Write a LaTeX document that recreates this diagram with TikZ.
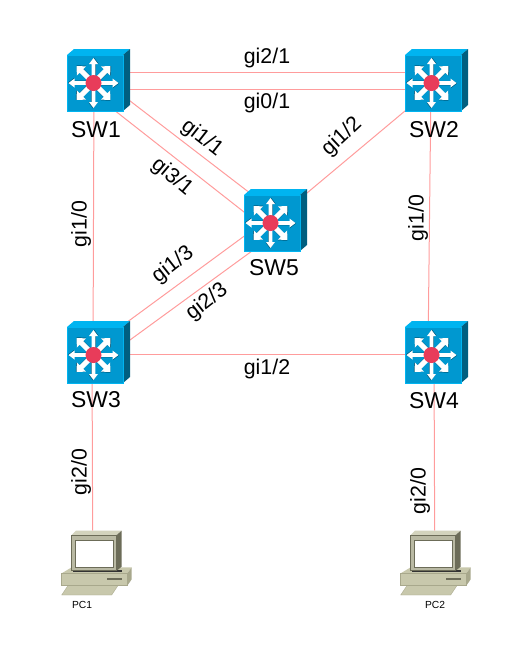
\documentclass[tikz,border=0pt]{standalone}
\usepackage{fontspec}
\setmainfont{Liberation Sans}
\usetikzlibrary{backgrounds}
\definecolor{linkpink}{HTML}{FF9C9C}
\definecolor{swfront}{HTML}{0098D0}
\definecolor{swtop}{HTML}{00B4F0}
\definecolor{swside}{HTML}{005F80}
\definecolor{swred}{HTML}{E83C5A}
\definecolor{pclight}{HTML}{C8C8AC}
\definecolor{pcmid}{HTML}{A8A88C}
\definecolor{pcdark}{HTML}{6C6C58}
\tikzset{
    link/.style={draw=linkpink, line width=0.75pt},
    portlabel/.style={font=\fontsize{16}{16}\selectfont, inner sep=0pt},
    swlabel/.style={font=\fontsize{17.2}{17.2}\selectfont, inner sep=0pt},
    pclabel/.style={font=\fontsize{7.7}{7.7}\selectfont, inner sep=0pt},
    switch/.pic={
        \node[minimum size=42pt, inner sep=0pt] (-box) at (0,0) {};
        \fill[swtop] (-28,-28) -- (-21,-34) -- (35,-34) -- (28,-28) -- cycle;
        \fill[swside] (28,-28) -- (35,-34) -- (35,22) -- (28,28) -- cycle;
        \fill[swfront, draw=swtop, line width=0.6pt] (-28,-28) rectangle (28,28);
        \begin{scope}[xshift=-1.5*0.75pt]
        \foreach \a in {0,90,180,270} {
            \fill[black!40!swfront, rotate=\a, shift={(0.5,0.5)}] (0,-1.8) -- (19,-1.8) -- (19,-4.5) -- (25,0)
                -- (19,4.5) -- (19,1.8) -- (0,1.8) -- cycle;
            \fill[white, rotate=\a] (0,-1.8) -- (19,-1.8) -- (19,-4.5) -- (25,0)
                -- (19,4.5) -- (19,1.8) -- (0,1.8) -- cycle;
        }
        \foreach \a in {45,135,225,315} {
            \fill[black!40!swfront, rotate=\a, shift={(0.5,0.5)}] (0,-2.5) -- (17,-2.5) -- (17,-6.5) -- (24,0)
                -- (17,6.5) -- (17,2.5) -- (0,2.5) -- cycle;
            \fill[white, rotate=\a] (0,-2.5) -- (17,-2.5) -- (17,-6.5) -- (24,0)
                -- (17,6.5) -- (17,2.5) -- (0,2.5) -- cycle;
        }
        \fill[swred] (0,0) circle (8);
        \end{scope}
    },
    pc/.pic={
        \begin{scope}[scale=1/3]
        \node[minimum size=1pt, inner sep=0pt] (-top) at (128,62) {};
        \fill[pclight, draw=pcmid, line width=0.3pt] (35,255) -- (55,225) -- (205,225) -- (185,255) -- cycle;
        \fill[pclight] (35,190) -- (65,172) -- (245,172) -- (232,190) -- cycle;
        \fill[pcmid] (232,190) -- (245,172) -- (245,208) -- (232,227) -- cycle;
        \fill[pclight, draw=pcmid, line width=0.3pt] (35,190) rectangle (232,227);
        \fill[pcdark] (170,205) rectangle (217,210);
        \fill[black!80] (68,180) rectangle (215,187);
        \fill[pclight!80!white] (65,75) -- (78,62) -- (215,62) -- (200,75) -- cycle;
        \fill[pcdark] (200,75) -- (215,62) -- (215,170) -- (200,182) -- cycle;
        \fill[pcmid!80!white, draw=pcdark, line width=0.3pt] (65,75) rectangle (200,182);
        \fill[white, draw=pcdark, line width=0.4pt] (77,90) rectangle (190,172);
        \end{scope}
    },
}
\begin{document}
\begin{tikzpicture}[x=0.75pt, y=-0.75pt]
    \useasboundingbox (0,0) rectangle (525,665);
    \pic (sw1) at (95,83) {switch};
    \pic (sw2) at (433,83) {switch};
    \pic (sw3) at (95,355) {switch};
    \pic (sw4) at (433,355) {switch};
    \pic (sw5) at (272,223) {switch};
    \pic (pc1) at (50,510) {pc};
    \pic (pc2) at (389,510) {pc};

    \node[swlabel] (sw1label) at (96,130) {SW1};
    \node[swlabel] (sw2label) at (434,130) {SW2};
    \node[swlabel] (sw3label) at (96,400) {SW3};
    \node[swlabel] (sw4label) at (434,401) {SW4};
    \node[swlabel] (sw5label) at (274,268) {SW5};
    \node[pclabel] (pc1label) at (82,605) {PC1};
    \node[pclabel] (pc2label) at (435,605) {PC2};

    \node[portlabel] (p12a) at (267,58) {gi2/1};
    \node[portlabel] (p12b) at (267,103) {gi0/1};
    \node[portlabel] (p34) at (267,369) {gi1/2};
    \node[portlabel, rotate=90] (p13) at (81,224) {gi1/0};
    \node[portlabel, rotate=90] (p24) at (418,218) {gi1/0};
    \node[portlabel, rotate=90] (p3pc) at (81,472) {gi2/0};
    \node[portlabel, rotate=90] (p4pc) at (420,491) {gi2/0};
    \node[portlabel, rotate=-38] (p15a) at (202,138) {gi1/1};
    \node[portlabel, rotate=-40] (p15b) at (172,177) {gi3/1};
    \node[portlabel, rotate=38] (p35a) at (173,265) {gi1/3};
    \node[portlabel, rotate=38] (p35b) at (207,302) {gi2/3};
    \node[portlabel, rotate=43] (p25) at (342,137) {gi1/2};

    \begin{scope}[on background layer]
        \draw[link] ([shift={(0,-11)}]sw1-box.center) -- ([shift={(0,-11)}]sw2-box.center);
        \draw[link] ([shift={(0,6)}]sw1-box.center) -- ([shift={(0,6)}]sw2-box.center);
        \draw[link] ([shift={(0,-9)}]sw1-box.center) -- ([shift={(0,-13)}]sw5-box.center);
        \draw[link] ([shift={(0,12)}]sw1-box.center) -- ([shift={(0,11)}]sw5-box.center);
        \draw[link] ([shift={(-1,0)}]sw1-box.center) -- ([shift={(-2,0)}]sw3-box.center);
        \draw[link] ([shift={(-2,0)}]sw2-box.center) -- ([shift={(-5,0)}]sw4-box.center);
        \draw[link] ([shift={(0,4.5)}]sw2-box.center) -- ([shift={(0,-0.7)}]sw5-box.center);
        \draw[link] ([shift={(0,-9.3)}]sw3-box.center) -- ([shift={(0,-7.3)}]sw5-box.center);
        \draw[link] ([shift={(0,10.5)}]sw3-box.center) -- ([shift={(0,13.4)}]sw5-box.center);
        \draw[link] ([shift={(0,-1)}]sw3-box.center) -- ([shift={(0,-1)}]sw4-box.center);
        \draw[link] ([shift={(-3,0)}]sw3-box.center) -- (pc1-top.center);
        \draw[link] ([shift={(1,0)}]sw4-box.center) -- ([shift={(3,0)}]pc2-top.center);
    \end{scope}
\end{tikzpicture}
\end{document}
